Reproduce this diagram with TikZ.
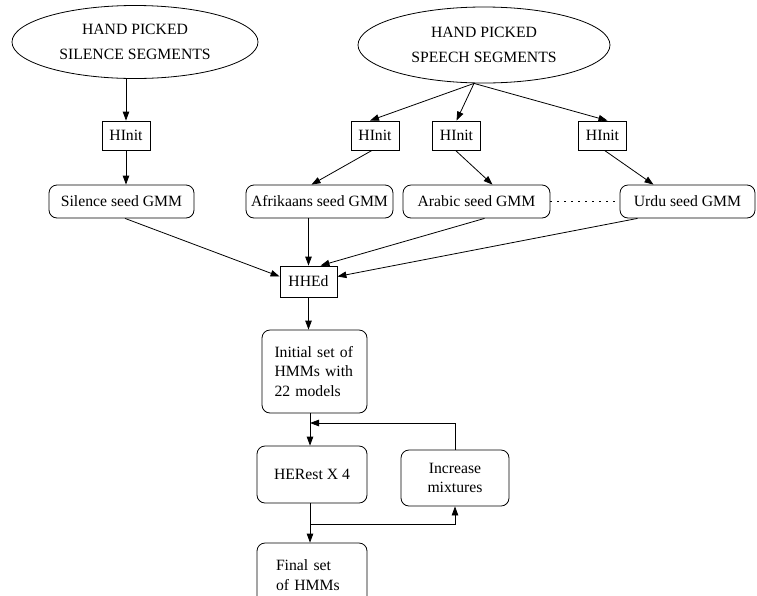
\documentclass[tikz,border=0pt]{standalone}
\usepackage{fontspec}
\setmainfont{Liberation Serif}
\usetikzlibrary{arrows.meta,shapes.geometric,calc}
\tikzset{
  base/.style={draw, line width=0.8pt, inner sep=0pt, font=\fontsize{15.7}{19.5}\selectfont},
  source/.style={base, ellipse, font=\fontsize{15.7}{25}\selectfont, align=center},
  tool/.style={base, rectangle},
  model/.style={base, rectangle, rounded corners=8pt},
  flow/.style={line width=0.8pt, -{Triangle[length=9pt,width=6.5pt]}},
  dots/.style={line width=1pt, dash pattern=on 1.2pt off 5.8pt}
}
\begin{document}
\begin{tikzpicture}[x=1pt,y=-1pt]
\useasboundingbox (0,0) rectangle (757,595);
\clip (0,0) rectangle (757,595);

% data sources
\node[source, minimum width=246, minimum height=73] (sil) at (135,42) {HAND PICKED\\SILENCE SEGMENTS};
\node[source, minimum width=252, minimum height=76] (sp) at (484,45) {HAND PICKED\\SPEECH SEGMENTS};

% initialisation tools
\node[tool, minimum width=48, minimum height=29] (hi1) at (126,135.5) {HInit};
\node[tool, minimum width=48, minimum height=29] (hi2) at (375,135.5) {HInit};
\node[tool, minimum width=48, minimum height=29] (hi3) at (456.5,135.5) {HInit};
\node[tool, minimum width=48, minimum height=29] (hi4) at (602.5,135.5) {HInit};

% seed models
\node[model, minimum width=145, minimum height=33] (g1) at (121.5,201.5) {Silence seed GMM};
\node[model, minimum width=147, minimum height=33] (g2) at (319.5,201.5) {Afrikaans seed GMM};
\node[model, minimum width=147, minimum height=33] (g3) at (476.5,201.5) {Arabic seed GMM};
\node[model, minimum width=135, minimum height=33] (g4) at (687.5,201.5) {Urdu seed GMM};

% model editing and training
\node[tool, minimum width=57, minimum height=31] (hhed) at (308.5,281.5) {HHEd};
\node[model, minimum width=105, minimum height=83, align=left, text width=80] (init) at (314.5,371.5) {Initial set of\\HMMs with\\22 models};
\node[model, minimum width=110, minimum height=57] (herest) at (312,474.5) {HERest X 4};
\node[model, minimum width=108, minimum height=56, align=center] (incr) at (455,478) {Increase\\mixtures};
\node[model, minimum width=110, minimum height=64, align=left, text width=72] (final) at (312,575) {Final set\\of HMMs};

% helper points on the training trunk
\coordinate (tx) at (310,0);
\coordinate (fb) at (310,423);
\coordinate (br) at (310,524);
\coordinate (fan) at ([xshift=-10]sp.south);

% silence branch
\draw[flow] (hi1.north |- sil.south) -- (hi1.north);
\draw[flow] (hi1.south) -- (hi1.south |- g1.north);

% speech branches
\draw[flow] (fan) -- ([xshift=-5]hi2.north);
\draw[flow] (fan) -- (hi3.north);
\draw[flow] (fan) -- ([xshift=5]hi4.north);
\draw[flow] ([xshift=-3]hi2.south) -- ([xshift=-8]g2.north);
\draw[flow] ([xshift=-1]hi3.south) -- ([xshift=16]g3.north);
\draw[flow] ([xshift=2]hi4.south) -- ([xshift=-34]g4.north);
\draw[dots] (g3.east) -- (g4.west);

% seeds into HHEd
\draw[flow] ([xshift=3.5]g1.south) -- ([yshift=5]hhed.west);
\draw[flow] (hhed.north |- g2.south) -- (hhed.north);
\draw[flow] ([xshift=8]g3.south) -- ([xshift=12]hhed.north);
\draw[flow] ([xshift=-50]g4.south) -- ([yshift=5]hhed.east);

% training loop
\draw[flow] (hhed.south) -- (hhed.south |- init.north);
\draw[flow] (tx |- init.south) -- (tx |- herest.north);
\draw[flow] (incr.north) |- (fb);
\draw[flow] (tx |- herest.south) -- (tx |- final.north);
\draw[flow] (br) -| (incr.south);
\end{tikzpicture}
\end{document}
